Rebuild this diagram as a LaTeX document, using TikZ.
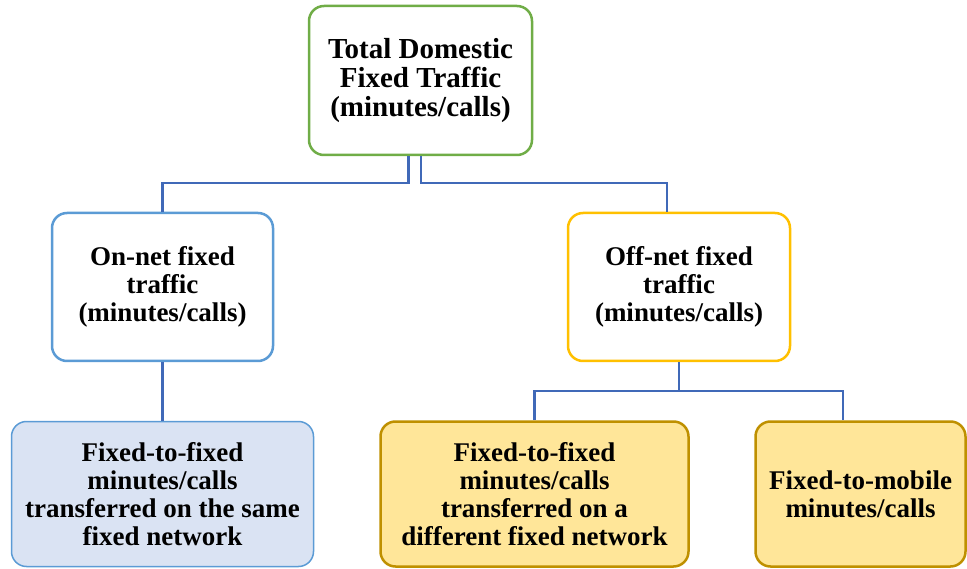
\documentclass[tikz,border=0pt]{standalone}
\usepackage{fontspec}
\setmainfont{Liberation Serif}
\usetikzlibrary{calc}
\definecolor{cgreen}{HTML}{70AD47}
\definecolor{cblue}{HTML}{5B9BD5}
\definecolor{cgold}{HTML}{FFC000}
\definecolor{cline}{HTML}{4069B8}
\definecolor{cblfill}{HTML}{DAE3F3}
\definecolor{cyfill}{HTML}{FFE699}
\definecolor{cydraw}{HTML}{BF9000}
\tikzset{
  box/.style={rectangle, rounded corners=15pt, line width=2.5pt, inner sep=0pt,
    align=center, font=\fontsize{27}{28.2}\selectfont\bfseries},
  conn/.style={draw=cline, line width=2.5pt}
}
\begin{document}
\begin{tikzpicture}[x=1pt,y=-1pt]
\useasboundingbox (0,0) rectangle (967,569);
\node[box, draw=cgreen, fill=white, minimum width=223pt, minimum height=149pt,
  font=\fontsize{29}{29}\selectfont\bfseries] (top) at (420.5,80.5)
  {Total Domestic\\Fixed Traffic\\(minutes/calls)};
\node[box, draw=cblue, fill=white, minimum width=221pt, minimum height=148pt] (onnet) at (162.5,287)
  {On-net fixed\\traffic\\(minutes/calls)};
\node[box, draw=cgold, fill=white, minimum width=222pt, minimum height=148pt] (offnet) at (679,287)
  {Off-net fixed\\traffic\\(minutes/calls)};
\node[box, draw=cblue, line width=1.5pt, fill=cblfill, minimum width=302pt, minimum height=145pt] (bl) at (162.5,494)
  {Fixed-to-fixed\\minutes/calls\\transferred on the same\\fixed network};
\node[box, draw=cydraw, fill=cyfill, minimum width=308pt, minimum height=145pt] (bm) at (534.5,494)
  {Fixed-to-fixed\\minutes/calls\\transferred on a\\different fixed network};
\node[box, draw=cydraw, fill=cyfill, minimum width=210pt, minimum height=145pt] (br) at (860.5,494)
  {Fixed-to-mobile\\minutes/calls};
\coordinate (busA) at (0,183);
\coordinate (busB) at (0,391);
\draw[conn] ([xshift=-12pt]top.south) -- ([xshift=-12pt]top.south |- busA) -| (onnet.north);
\draw[conn] ([xshift=0.5pt]top.south) -- ([xshift=0.5pt]top.south |- busA) -| ([xshift=-12pt]offnet.north);
\draw[conn] (onnet.south) -- (bl.north);
\draw[conn] (offnet.south) -- (offnet.south |- busB) -| (bm.north);
\draw[conn] (offnet.south |- busB) -| ([xshift=-17.5pt]br.north);
\end{tikzpicture}
\end{document}
